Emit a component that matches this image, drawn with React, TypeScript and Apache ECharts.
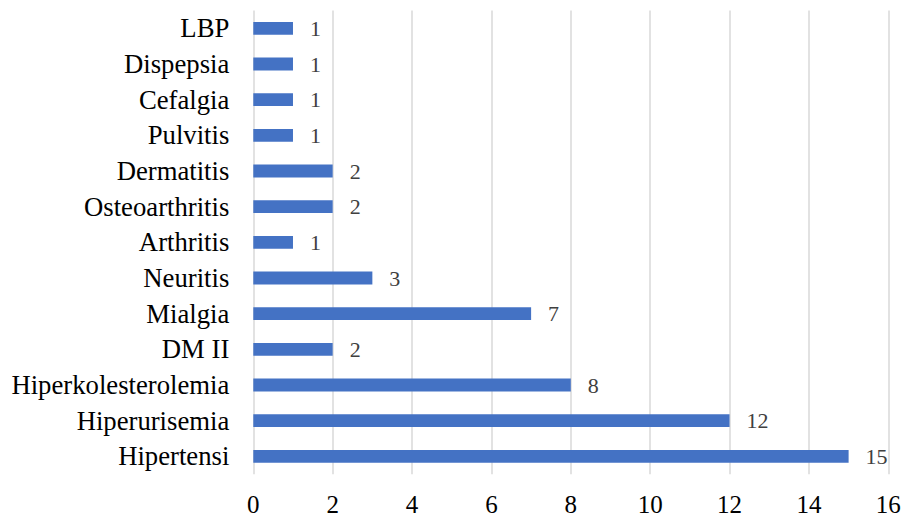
import React, { useEffect, useRef } from "react";
import * as echarts from "echarts";

const categories = [
  "LBP",
  "Dispepsia",
  "Cefalgia",
  "Pulvitis",
  "Dermatitis",
  "Osteoarthritis",
  "Arthritis",
  "Neuritis",
  "Mialgia",
  "DM II",
  "Hiperkolesterolemia",
  "Hiperurisemia",
  "Hipertensi",
];
const values = [1, 1, 1, 1, 2, 2, 1, 3, 7, 2, 8, 12, 15];
const xMin = 0;
const xMax = 16;
const xInterval = 2;

const FONT = "'Liberation Serif', 'Times New Roman', serif";

export default function App() {
  const ref = useRef<HTMLDivElement>(null);
  useEffect(() => {
    if (!ref.current) return;
    const chart = echarts.init(ref.current, undefined, { renderer: "svg" });
    chart.setOption({
      animation: false,
      backgroundColor: "#ffffff",
      grid: { left: 253.3, right: 18.7, top: 10.5, bottom: 47.8, containLabel: false },
      xAxis: {
        type: "value",
        min: xMin,
        max: xMax,
        interval: xInterval,
        axisLine: { show: false },
        axisTick: { show: false },
        splitLine: { show: true, lineStyle: { color: "#d9d9d9", width: 1.5 } },
        axisLabel: { color: "#000000", fontFamily: FONT, fontSize: 25, margin: 18 },
      },
      yAxis: {
        type: "category",
        data: categories,
        inverse: true,
        axisLine: { show: false },
        axisTick: { show: false },
        splitLine: { show: false },
        axisLabel: { color: "#000000", fontFamily: FONT, fontSize: 26.7, margin: 24 },
      },
      series: [
        {
          type: "bar",
          data: values,
          barCategoryGap: "64%",
          itemStyle: { color: "#4472C4" },
          label: {
            show: true,
            position: "right",
            distance: 17,
            color: "#404040",
            fontFamily: FONT,
            fontSize: 22,
          },
        },
      ],
    });
    return () => chart.dispose();
  }, []);
  return (
    <div
      ref={ref}
      style={{ position: "fixed", left: 0, top: 0, width: 907, height: 522 }}
    />
  );
}
